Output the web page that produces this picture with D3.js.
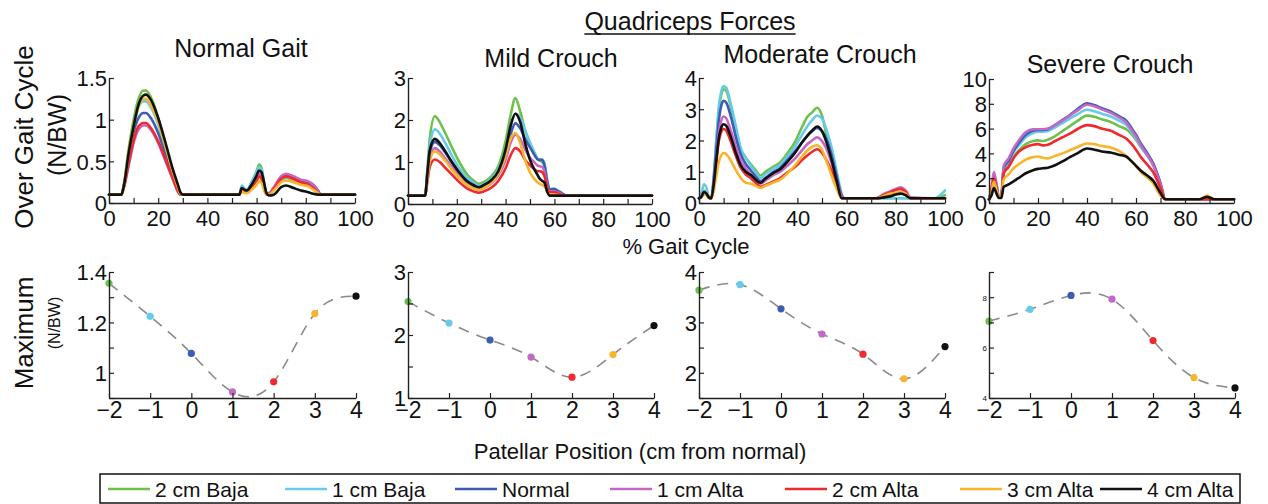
<!DOCTYPE html>
<html><head><meta charset="utf-8">
<script src="https://cdn.jsdelivr.net/npm/d3@7"></script>
<style>
body{margin:0;background:#fff}
svg{display:block}
text{font-family:"Liberation Sans",Arial,Helvetica,sans-serif;fill:#111}
</style>
</head><body>
<svg id="chart" width="1268" height="504"></svg>
<script>
// ---------------- DATA ----------------
const seriesNames  = ["2 cm Baja","1 cm Baja","Normal","1 cm Alta","2 cm Alta","3 cm Alta","4 cm Alta"];
const seriesColors = ["#6dc04b","#66cbe8","#3d5db5","#c468c6","#ee2a2e","#f7b52c","#111111"];
const patellarPositions = [-2,-1,0,1,2,3,4];
const gaitTicks = [0,10,20,30,40,50,60,70,80,90,100];

// Normal gait
const normalX = [0,5,6,8,10,12,14,15,17,20,23,26,28,29,30,53,54,55,56,58,60,61,62,63,64,65,67,70,72,75,78,81,83,85,86,100];
const normal_2cmBaja = [0.1,0.1,0.22,0.65,1.0,1.25,1.35,1.35,1.27,1.02,0.68,0.36,0.18,0.1,0.1, 0.1,0.2,0.17,0.16,0.25,0.38,0.46,0.42,0.25,0.12,0.12,0.18,0.27,0.30,0.27,0.24,0.22,0.18,0.12,0.1,0.1];
const normal_1cmBaja = [0.1,0.1,0.2,0.58,0.92,1.15,1.22,1.22,1.15,0.94,0.64,0.34,0.17,0.1,0.1, 0.1,0.21,0.17,0.16,0.25,0.37,0.43,0.40,0.25,0.12,0.11,0.18,0.28,0.31,0.28,0.25,0.23,0.2,0.14,0.1,0.1];
const normal_normal  = [0.1,0.1,0.2,0.55,0.85,1.02,1.08,1.08,1.02,0.84,0.58,0.32,0.16,0.1,0.1, 0.1,0.17,0.15,0.14,0.22,0.30,0.35,0.33,0.22,0.12,0.11,0.18,0.30,0.33,0.30,0.27,0.25,0.22,0.15,0.1,0.1];
const normal_1cmAlta = [0.1,0.1,0.18,0.45,0.72,0.88,0.93,0.93,0.88,0.72,0.5,0.28,0.14,0.1,0.1, 0.1,0.16,0.14,0.13,0.2,0.28,0.35,0.32,0.2,0.12,0.11,0.19,0.32,0.35,0.32,0.28,0.26,0.22,0.14,0.1,0.1];
const normal_2cmAlta = [0.1,0.1,0.18,0.48,0.75,0.92,0.96,0.96,0.9,0.74,0.52,0.29,0.14,0.1,0.1, 0.1,0.15,0.13,0.12,0.18,0.26,0.32,0.29,0.18,0.1,0.1,0.17,0.29,0.32,0.29,0.25,0.22,0.18,0.12,0.1,0.1];
const normal_3cmAlta = [0.1,0.1,0.2,0.6,0.92,1.16,1.25,1.25,1.18,0.97,0.67,0.37,0.19,0.11,0.1, 0.1,0.14,0.12,0.12,0.16,0.22,0.26,0.24,0.16,0.1,0.1,0.15,0.25,0.27,0.25,0.22,0.2,0.16,0.12,0.1,0.1];
const normal_4cmAlta = [0.1,0.1,0.2,0.6,0.92,1.18,1.29,1.30,1.24,1.02,0.72,0.40,0.22,0.13,0.1, 0.1,0.18,0.16,0.15,0.22,0.33,0.39,0.37,0.25,0.12,0.09,0.1,0.19,0.21,0.18,0.15,0.13,0.11,0.1,0.1,0.1];

// Mild crouch
const mildX = [0,7,8,9,11,13,15,18,21,24,27,29,31,34,37,40,42,44,46,48,50,52,53,54,55,56,57,58,60,61,63,65,100];
const mild_2cmBaja = [0.2,0.2,0.9,1.6,2.09,1.95,1.72,1.35,1.0,0.72,0.55,0.48,0.52,0.65,0.9,1.5,2.1,2.52,2.2,1.75,1.45,1.2,1.08,1.03,1.0,0.9,0.55,0.32,0.3,0.27,0.22,0.2,0.2];
const mild_1cmBaja = [0.2,0.2,0.8,1.4,1.78,1.68,1.48,1.15,0.85,0.63,0.5,0.43,0.47,0.6,0.82,1.3,1.85,2.15,2.05,1.75,1.45,1.2,1.08,1.05,1.05,0.95,0.6,0.35,0.33,0.3,0.25,0.2,0.2];
const mild_normal  = [0.2,0.2,0.75,1.25,1.48,1.4,1.25,0.98,0.75,0.56,0.45,0.4,0.44,0.55,0.75,1.2,1.65,1.92,1.8,1.55,1.35,1.15,1.07,1.05,1.05,0.9,0.55,0.35,0.36,0.33,0.26,0.2,0.2];
const mild_1cmAlta = [0.2,0.2,0.65,1.1,1.33,1.25,1.1,0.88,0.65,0.48,0.38,0.35,0.38,0.48,0.68,1.05,1.45,1.65,1.55,1.3,1.1,0.98,0.92,0.9,0.88,0.75,0.45,0.3,0.3,0.28,0.24,0.2,0.2];
const mild_2cmAlta = [0.2,0.2,0.55,0.9,1.06,1.0,0.88,0.7,0.52,0.38,0.3,0.27,0.3,0.38,0.55,0.85,1.15,1.33,1.25,1.05,0.92,0.82,0.78,0.78,0.76,0.65,0.4,0.28,0.28,0.26,0.22,0.2,0.2];
const mild_3cmAlta = [0.2,0.2,0.62,1.05,1.25,1.18,1.05,0.82,0.62,0.46,0.37,0.34,0.38,0.5,0.72,1.15,1.55,1.69,1.45,1.05,0.75,0.58,0.52,0.48,0.45,0.42,0.3,0.22,0.22,0.22,0.2,0.2,0.2];
const mild_4cmAlta = [0.2,0.2,0.75,1.3,1.55,1.45,1.28,1.0,0.75,0.55,0.44,0.4,0.45,0.56,0.78,1.3,1.85,2.15,1.95,1.45,1.05,0.8,0.7,0.6,0.55,0.5,0.3,0.2,0.2,0.2,0.2,0.2,0.2];

// Moderate crouch
const modX = [0,1,2,3,4,5,6,7,8,9,10,11,13,15,17,19,21,23,25,27,30,33,36,39,42,44,46,48,50,52,54,56,58,59,72,75,78,80,82,84,86,96,98,100];
const mod_2cmBaja = [0.15,0.25,0.4,0.35,0.18,0.15,0.8,1.9,2.9,3.45,3.64,3.6,3.05,2.3,1.7,1.45,1.25,1.05,0.88,1.0,1.15,1.3,1.6,1.95,2.45,2.75,2.9,3.05,2.8,2.1,1.5,0.75,0.2,0.15,0.15,0.15,0.15,0.15,0.15,0.15,0.15,0.15,0.18,0.25];
const mod_1cmBaja = [0.15,0.3,0.6,0.5,0.2,0.15,0.9,2.0,3.05,3.55,3.74,3.7,3.15,2.45,1.75,1.45,1.2,0.98,0.8,0.92,1.08,1.22,1.5,1.8,2.2,2.45,2.65,2.8,2.7,2.3,1.75,1.0,0.3,0.15,0.15,0.15,0.15,0.15,0.15,0.15,0.15,0.15,0.25,0.4];
const mod_normal  = [0.15,0.2,0.35,0.3,0.18,0.15,0.75,1.7,2.6,3.1,3.27,3.22,2.75,2.1,1.55,1.25,1.05,0.85,0.7,0.8,0.98,1.12,1.38,1.65,1.95,2.15,2.3,2.4,2.3,2.0,1.5,0.85,0.25,0.15,0.15,0.18,0.22,0.28,0.33,0.25,0.15,0.15,0.15,0.15];
const mod_1cmAlta = [0.15,0.2,0.35,0.3,0.18,0.15,0.6,1.4,2.2,2.62,2.77,2.72,2.3,1.8,1.35,1.1,0.92,0.75,0.62,0.72,0.88,1.0,1.2,1.42,1.7,1.88,2.0,2.1,1.98,1.7,1.25,0.7,0.2,0.15,0.15,0.28,0.38,0.45,0.5,0.4,0.18,0.15,0.15,0.15];
const mod_2cmAlta = [0.15,0.2,0.3,0.28,0.18,0.15,0.55,1.25,1.95,2.27,2.37,2.32,1.95,1.5,1.12,0.92,0.8,0.65,0.52,0.58,0.68,0.8,0.98,1.15,1.38,1.52,1.64,1.72,1.6,1.35,1.0,0.55,0.15,0.15,0.15,0.25,0.35,0.42,0.45,0.35,0.15,0.15,0.15,0.15];
const mod_3cmAlta = [0.15,0.2,0.28,0.25,0.15,0.15,0.4,0.85,1.3,1.52,1.6,1.57,1.35,1.05,0.8,0.65,0.62,0.55,0.48,0.55,0.65,0.75,0.95,1.2,1.5,1.68,1.8,1.85,1.7,1.3,0.85,0.45,0.15,0.15,0.15,0.22,0.3,0.33,0.35,0.3,0.15,0.15,0.15,0.15];
const mod_4cmAlta = [0.15,0.2,0.35,0.3,0.18,0.15,0.6,1.35,2.05,2.4,2.52,2.48,2.1,1.6,1.2,1.0,0.9,0.75,0.65,0.78,0.95,1.08,1.32,1.6,1.95,2.15,2.32,2.45,2.3,1.9,1.35,0.7,0.15,0.15,0.15,0.18,0.22,0.27,0.3,0.25,0.15,0.15,0.15,0.15];

// Severe crouch
const sevX = [0,1,2,3,4,5,6,8,10,12,15,18,20,22,24,27,30,33,36,40,43,46,50,53,56,58,60,62,65,67,70,72,86,88,89,90,92,100];
const sev_2cmBaja = [0.3,0.9,1.8,1.2,0.5,0.5,2.5,3.0,3.7,4.2,4.75,5.0,5.05,5.0,5.1,5.4,5.8,6.2,6.6,7.05,6.95,6.75,6.5,6.2,5.95,5.6,5.1,4.5,3.8,3.2,1.5,0.3,0.3,0.3,0.3,0.3,0.3,0.3];
const sev_1cmBaja = [0.3,1.0,2.1,1.4,0.5,0.5,2.7,3.3,4.1,4.6,5.3,5.65,5.75,5.75,5.8,6.1,6.45,6.8,7.15,7.52,7.4,7.2,6.95,6.65,6.3,5.8,5.2,4.55,3.7,3.1,1.5,0.3,0.3,0.3,0.3,0.3,0.3,0.3];
const sev_normal  = [0.3,1.0,2.2,1.5,0.5,0.5,2.8,3.4,4.2,4.8,5.5,5.85,5.9,5.9,5.95,6.3,6.7,7.1,7.55,8.05,7.9,7.65,7.35,7.0,6.65,6.1,5.5,4.8,3.9,3.2,1.6,0.3,0.3,0.3,0.35,0.3,0.3,0.3];
const sev_1cmAlta = [0.3,1.2,2.5,1.6,0.5,0.5,3.0,3.6,4.4,5.0,5.7,5.95,5.95,5.95,6.0,6.3,6.65,7.05,7.45,7.92,7.8,7.55,7.25,6.9,6.5,5.95,5.35,4.65,3.75,3.05,1.5,0.3,0.3,0.3,0.3,0.3,0.3,0.3];
const sev_2cmAlta = [0.3,1.0,2.0,1.3,0.5,0.5,2.4,2.9,3.6,4.1,4.5,4.7,4.75,4.65,4.7,5.0,5.3,5.6,5.95,6.28,6.2,6.0,5.8,5.5,5.2,4.8,4.3,3.7,3.0,2.5,1.2,0.3,0.3,0.3,0.3,0.3,0.3,0.3];
const sev_3cmAlta = [0.3,0.8,1.7,1.1,0.5,0.5,1.9,2.3,2.8,3.1,3.5,3.7,3.75,3.65,3.6,3.8,4.0,4.25,4.5,4.8,4.75,4.6,4.45,4.2,3.8,3.4,3.0,2.5,2.0,1.6,0.6,0.3,0.3,0.5,0.6,0.5,0.3,0.3];
const sev_4cmAlta = [0.3,0.6,1.2,0.8,0.4,0.4,1.3,1.5,1.75,2.0,2.4,2.65,2.75,2.8,2.85,3.05,3.35,3.7,4.0,4.4,4.3,4.15,4.05,3.9,3.75,3.4,3.0,2.6,2.15,1.8,0.8,0.3,0.3,0.45,0.5,0.45,0.3,0.3];

// Maximum quadriceps force vs patellar position
const maxNormal   = [1.355,1.224,1.077,0.924,0.964,1.235,1.304];
const maxMild     = [2.53,2.19,1.92,1.65,1.33,1.69,2.15];
const maxModerate = [3.64,3.75,3.27,2.77,2.37,1.88,2.52];
const maxSevere   = [7.05,7.52,8.07,7.92,6.28,4.81,4.40];

// tick values
const topYTicks = [[0,0.5,1,1.5],[0,1,2,3],[0,1,2,3,4],[0,2,4,6,8,10]];
const botYTicks = [[0.9,1,1.1,1.2,1.3,1.4],[1,1.5,2,2.5,3],[1.5,2,2.5,3,3.5,4],[4,5,6,7,8,9]];
const botYLabels = [[1,1.2,1.4],[1,2,3],[2,3,4],[4,6,8]];

// ---------------- LAYOUT ----------------
const svg = d3.select("#chart");
const FONT = '"Liberation Sans",Arial,Helvetica,sans-serif';
const fmt = d3.format("~g");

const topPanels = [
  {title:"Normal Gait",     tx:241,  ty:57, x0:109, x1:355,  yT:78, yB:203, ymax:1.5, X:normalX, S:[normal_2cmBaja,normal_1cmBaja,normal_normal,normal_1cmAlta,normal_2cmAlta,normal_3cmAlta,normal_4cmAlta]},
  {title:"Mild Crouch",     tx:551,  ty:67, x0:408, x1:652,  yT:78, yB:204, ymax:3,   X:mildX,   S:[mild_2cmBaja,mild_1cmBaja,mild_normal,mild_1cmAlta,mild_2cmAlta,mild_3cmAlta,mild_4cmAlta]},
  {title:"Moderate Crouch", tx:820,  ty:63, x0:699, x1:945,  yT:78, yB:203, ymax:4,   X:modX,    S:[mod_2cmBaja,mod_1cmBaja,mod_normal,mod_1cmAlta,mod_2cmAlta,mod_3cmAlta,mod_4cmAlta]},
  {title:"Severe Crouch",   tx:1110, ty:73, x0:989, x1:1234, yT:79, yB:203, ymax:10,  X:sevX,    S:[sev_2cmBaja,sev_1cmBaja,sev_normal,sev_1cmAlta,sev_2cmAlta,sev_3cmAlta,sev_4cmAlta]}
];
const botPanels = [
  {x0:109, x1:356, yT:272, yB:398, dom:[0.9,1.4], M:maxNormal,   small:false},
  {x0:408, x1:654, yT:272, yB:398, dom:[1,3],     M:maxMild,     small:false},
  {x0:699, x1:945, yT:272, yB:398, dom:[1.5,4],   M:maxModerate, small:false},
  {x0:989, x1:1235,yT:272, yB:398, dom:[4,9],     M:maxSevere,   small:true}
];

function styleAxis(g, size){
  g.attr("font-family", FONT).attr("font-size", size);
  g.select(".domain").attr("stroke","#222").attr("stroke-width",1.4);
  g.selectAll(".tick line").attr("stroke","#222").attr("stroke-width",1.2);
  g.selectAll(".tick text").attr("fill","#111");
}

topPanels.forEach((p,pi)=>{
  const x = d3.scaleLinear().domain([0,100]).range([p.x0,p.x1]);
  const y = d3.scaleLinear().domain([0,p.ymax]).range([p.yB,p.yT]);
  const line = d3.line().x(d=>x(d[0])).y(d=>y(d[1])).curve(d3.curveMonotoneX);
  const g = svg.append("g");
  p.S.forEach((s,i)=>{
    g.append("path").datum(p.X.map((xv,j)=>[xv,s[j]]))
      .attr("d",line).attr("fill","none").attr("stroke",seriesColors[i])
      .attr("stroke-width",2.6).attr("stroke-linejoin","round").attr("stroke-linecap","round");
  });
  const xa = g.append("g").attr("transform",`translate(0,${p.yB})`)
    .call(d3.axisBottom(x).tickValues(gaitTicks).tickSizeInner(-5).tickSizeOuter(0).tickPadding(7)
      .tickFormat(d=> d%20===0 ? fmt(d) : ""));
  styleAxis(xa, 22);
  const ya = g.append("g").attr("transform",`translate(${p.x0},0)`)
    .call(d3.axisLeft(y).tickValues(topYTicks[pi]).tickSizeInner(-5).tickSizeOuter(0).tickPadding(2).tickFormat(fmt));
  styleAxis(ya, 22);
  ya.selectAll(".tick text").attr("dy","0.36em");
  svg.append("text").attr("x",p.tx).attr("y",p.ty).attr("text-anchor","middle")
    .attr("font-size",25).text(p.title);
});

botPanels.forEach((p,pi)=>{
  const x = d3.scaleLinear().domain([-2,4]).range([p.x0,p.x1]);
  const y = d3.scaleLinear().domain(p.dom).range([p.yB,p.yT]);
  const g = svg.append("g");
  const pts = patellarPositions.map((v,i)=>[v,p.M[i]]);
  g.append("path").datum(pts)
    .attr("d", d3.line().x(d=>x(d[0])).y(d=>y(d[1])).curve(d3.curveNatural))
    .attr("fill","none").attr("stroke","#8a8a8a").attr("stroke-width",1.6).attr("stroke-dasharray","11,8");
  g.selectAll("circle").data(pts).join("circle")
    .attr("cx",d=>x(d[0])).attr("cy",d=>y(d[1])).attr("r",3.6)
    .attr("fill",(d,i)=>seriesColors[i]);
  const xa = g.append("g").attr("transform",`translate(0,${p.yB})`)
    .call(d3.axisBottom(x).tickValues(patellarPositions).tickSizeInner(-5).tickSizeOuter(0).tickPadding(4).tickFormat(fmt));
  styleAxis(xa, 23);
  const labels = botYLabels[pi];
  const ya = g.append("g").attr("transform",`translate(${p.x0},0)`)
    .call(d3.axisLeft(y).tickValues(botYTicks[pi]).tickSizeInner(-5).tickSizeOuter(0).tickPadding(2)
      .tickFormat(d=> labels.some(l=>Math.abs(l-d)<1e-9) ? fmt(d) : ""));
  styleAxis(ya, p.small ? 8 : 22);
  ya.selectAll(".tick text").attr("dy","0.36em");
});

// Axis titles
svg.append("text").attr("transform","translate(33,137) rotate(-90)").attr("text-anchor","middle").attr("font-size",26).text("Over Gait Cycle");
svg.append("text").attr("transform","translate(66,135) rotate(-90)").attr("text-anchor","middle").attr("font-size",25).text("(N/BW)");
svg.append("text").attr("transform","translate(33,333) rotate(-90)").attr("text-anchor","middle").attr("font-size",26).text("Maximum");
svg.append("text").attr("transform","translate(60,323) rotate(-90)").attr("text-anchor","middle").attr("font-size",16).text("(N/BW)");
svg.append("text").attr("x",686).attr("y",254).attr("text-anchor","middle").attr("font-size",22).text("% Gait Cycle");
svg.append("text").attr("x",640).attr("y",459).attr("text-anchor","middle").attr("font-size",22).text("Patellar Position (cm from normal)");

// Main title with underline
const mt = svg.append("text").attr("x",690).attr("y",30).attr("text-anchor","middle").attr("font-size",25).text("Quadriceps Forces");
const mw = mt.node().getComputedTextLength();
svg.append("line").attr("x1",690-mw/2).attr("x2",690+mw/2).attr("y1",34).attr("y2",34).attr("stroke","#111").attr("stroke-width",1.6);

// Legend
const legendX = [108,285,455,610,785,960,1100];
svg.append("rect").attr("x",100).attr("y",474).attr("width",1140).attr("height",29)
  .attr("fill","none").attr("stroke","#111").attr("stroke-width",1.5);
seriesNames.forEach((n,i)=>{
  svg.append("line").attr("x1",legendX[i]).attr("x2",legendX[i]+42).attr("y1",489).attr("y2",489)
    .attr("stroke",seriesColors[i]).attr("stroke-width",2.6);
  svg.append("text").attr("x",legendX[i]+47).attr("y",496.5).attr("font-size",21).text(n);
});
</script>
</body></html>
